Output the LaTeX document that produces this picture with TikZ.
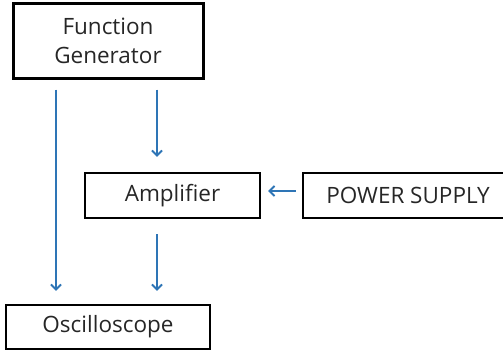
\documentclass[tikz,border=0pt]{standalone}
\usepackage{fontspec}
\setmainfont{Open Sans}
\usepackage{tikz}
\usetikzlibrary{arrows.meta}
\definecolor{flowblue}{RGB}{46,117,182}

\begin{document}
\begin{tikzpicture}[
    x=1pt, y=-1pt,
    every node/.style={draw, rectangle, inner sep=0pt, line width=2.2pt,
        font=\fontsize{22.5}{29}\selectfont, text=black!85, align=center},
    flow/.style={draw=flowblue, line width=2pt,
        -{Straight Barb[length=5pt,width=10pt,line width=2pt]}}
]
    \useasboundingbox (0,0) rectangle (503,351);
    \clip (0,0) rectangle (503,351);

    % boxes
    \node[line width=3pt, minimum width=190pt, minimum height=75pt] (fg) at (108,40.5) {Function\\Generator};
    \node[minimum width=175pt, minimum height=45pt] (amp) at (172.5,195.5) {Amplifier};
    \node[minimum width=210pt, minimum height=45pt] (ps) at (408,195.5) {POWER SUPPLY};
    \node[minimum width=204pt, minimum height=44pt] (osc) at (108,327) {Oscilloscope};

    % signal paths
    \draw[flow, shorten <=10pt, shorten >=13pt] ([xshift=-52pt]fg.south) -- ([xshift=-52pt]fg.south |- osc.north);
    \draw[flow, shorten <=10pt, shorten >=15pt] ([xshift=49pt]fg.south) -- ([xshift=49pt]fg.south |- amp.north);
    \draw[flow, shorten <=15pt, shorten >=13pt] ([xshift=-15.5pt]amp.south) -- ([xshift=-15.5pt]amp.south |- osc.north);
    \draw[flow, shorten <=6pt, shorten >=7pt] ([yshift=4.5pt]ps.west) -- ([yshift=4.5pt]amp.east);
\end{tikzpicture}
\end{document}
